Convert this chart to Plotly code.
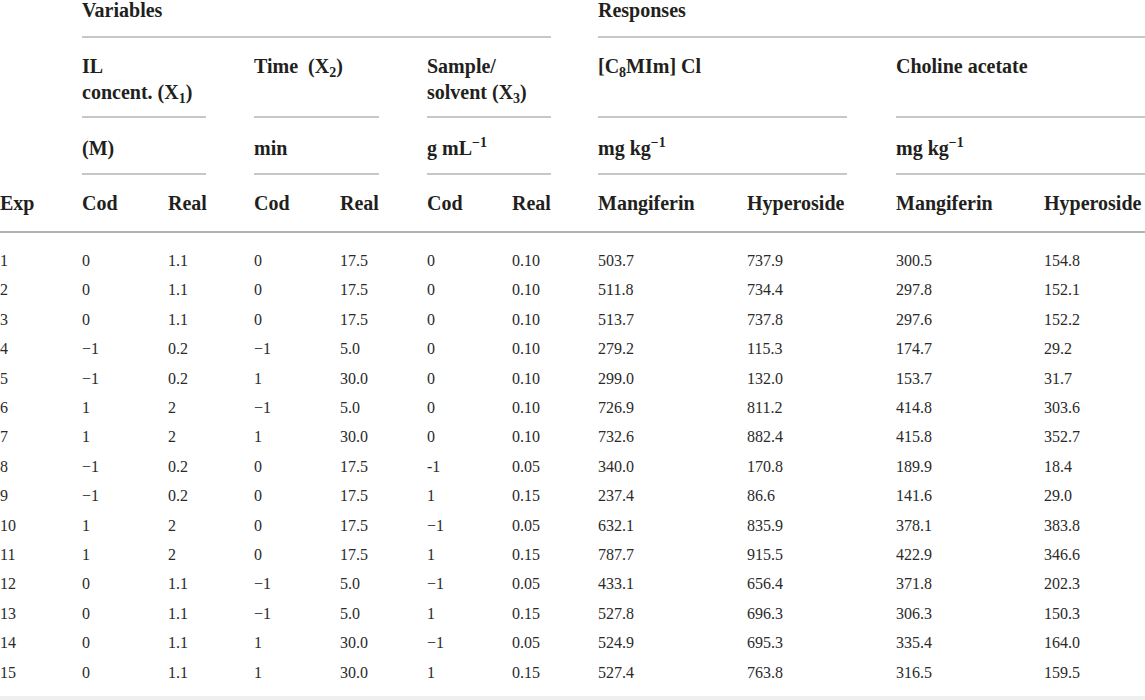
import plotly.graph_objects as go

# ---------------- data ----------------
exp_no = list(range(1, 16))
x1_cod = ["0", "0", "0", "−1", "−1", "1", "1", "−1", "−1", "1", "1", "0", "0", "0", "0"]
x1_real = ["1.1", "1.1", "1.1", "0.2", "0.2", "2", "2", "0.2", "0.2", "2", "2", "1.1", "1.1", "1.1", "1.1"]
x2_cod = ["0", "0", "0", "−1", "1", "−1", "1", "0", "0", "0", "0", "−1", "−1", "1", "1"]
x2_real = ["17.5", "17.5", "17.5", "5.0", "30.0", "5.0", "30.0", "17.5", "17.5", "17.5", "17.5",
           "5.0", "5.0", "30.0", "30.0"]
x3_cod = ["0", "0", "0", "0", "0", "0", "0", "-1", "1", "−1", "1", "−1", "1", "−1", "1"]
x3_real = ["0.10", "0.10", "0.10", "0.10", "0.10", "0.10", "0.10", "0.05", "0.15", "0.05", "0.15",
           "0.05", "0.15", "0.05", "0.15"]
c8_mangiferin = [503.7, 511.8, 513.7, 279.2, 299.0, 726.9, 732.6, 340.0, 237.4, 632.1, 787.7,
                 433.1, 527.8, 524.9, 527.4]
c8_hyperoside = [737.9, 734.4, 737.8, 115.3, 132.0, 811.2, 882.4, 170.8, 86.6, 835.9, 915.5,
                 656.4, 696.3, 695.3, 763.8]
ch_mangiferin = [300.5, 297.8, 297.6, 174.7, 153.7, 414.8, 415.8, 189.9, 141.6, 378.1, 422.9,
                 371.8, 306.3, 335.4, 316.5]
ch_hyperoside = [154.8, 152.1, 152.2, 29.2, 31.7, 303.6, 352.7, 18.4, 29.0, 383.8, 346.6,
                 202.3, 150.3, 164.0, 159.5]

group_labels = ["Variables", "Responses"]
factor_labels = ["IL<br>concent. (X<sub>1</sub>)", "Time  (X<sub>2</sub>)",
                 "Sample/<br>solvent (X<sub>3</sub>)", "[C<sub>8</sub>MIm] Cl", "Choline acetate"]
unit_labels = ["(M)", "min", "g mL<sup>−1</sup>", "mg kg<sup>−1</sup>", "mg kg<sup>−1</sup>"]
column_labels = ["Exp", "Cod", "Real", "Cod", "Real", "Cod", "Real",
                 "Mangiferin", "Hyperoside", "Mangiferin", "Hyperoside"]

# ---------------- layout constants (pixels) ----------------
W, H = 1145, 700
col_x = [0, 82, 168, 254, 340, 427, 512, 598, 747, 896, 1044]
group_x = [82, 598]
factor_x = [82, 254, 427, 598, 896]
factor_spans = [(82, 206), (254, 379), (427, 551), (598, 847), (896, 1145)]
group_spans = [(82, 551), (598, 1145)]
HEAD_FONT = dict(family="Liberation Serif", size=20, color="#231f20", weight="bold")
BODY_FONT = dict(family="Liberation Serif", size=16, color="#2a2a2a")
head_rows_y = [2, 58, 140, 195]  # top of text boxes
row1_px, row_pitch = 254, 29.4

fig = go.Figure()

def head(xs, labels, y):
    fig.add_trace(go.Scatter(
        x=xs, y=[y] * len(xs), text=labels, mode="text",
        textposition="bottom right", textfont=HEAD_FONT,
        hoverinfo="skip", showlegend=False, xaxis="x", yaxis="y"))

head(group_x, group_labels, head_rows_y[0])
head(factor_x, factor_labels, head_rows_y[1])
head(factor_x, unit_labels, head_rows_y[2])
head(col_x, column_labels, head_rows_y[3])

columns = [
    [str(v) for v in exp_no], x1_cod, x1_real, x2_cod, x2_real, x3_cod, x3_real,
    [f"{v:.1f}" for v in c8_mangiferin], [f"{v:.1f}" for v in c8_hyperoside],
    [f"{v:.1f}" for v in ch_mangiferin], [f"{v:.1f}" for v in ch_hyperoside],
]
for cx, vals in zip(col_x, columns):
    fig.add_trace(go.Scatter(
        x=[cx] * len(exp_no), y=exp_no, text=vals, mode="text",
        textposition="bottom right", textfont=BODY_FONT,
        hoverinfo="skip", showlegend=False, xaxis="x", yaxis="y2"))

# rules
shapes = []
line_light = dict(color="#b4b4b4", width=1.5)
for x0, x1 in group_spans:
    shapes.append(dict(type="line", xref="x", yref="y", x0=x0, x1=x1, y0=37, y1=37, line=line_light))
for yy in (117, 174):
    for x0, x1 in factor_spans:
        shapes.append(dict(type="line", xref="x", yref="y", x0=x0, x1=x1, y0=yy, y1=yy, line=line_light))
shapes.append(dict(type="line", xref="x", yref="y", x0=0, x1=W, y0=232, y1=232,
                   line=dict(color="#9a9a9a", width=1.5)))
shapes.append(dict(type="rect", xref="x", yref="y", x0=0, x1=W, y0=696, y1=H,
                   fillcolor="#efefef", line=dict(width=0), layer="below"))

top_val = 1 - row1_px / row_pitch
bot_val = 1 + (H - row1_px) / row_pitch

fig.update_layout(
    width=W, height=H, margin=dict(l=0, r=0, t=0, b=0),
    paper_bgcolor="white", plot_bgcolor="white",
    xaxis=dict(range=[0, W], visible=False, fixedrange=True),
    yaxis=dict(range=[H, 0], visible=False, fixedrange=True),
    yaxis2=dict(range=[bot_val, top_val], visible=False, fixedrange=True, overlaying="y"),
    shapes=shapes,
)

fig.write_html("out.html", config={"displayModeBar": False},
               post_script="document.body.style.margin='0';")
